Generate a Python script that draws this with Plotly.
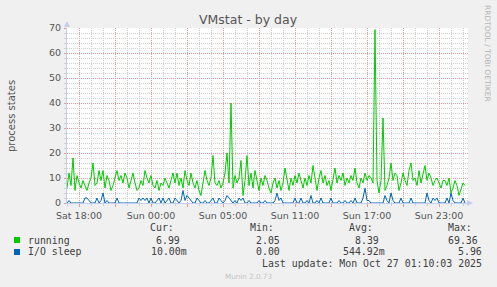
import plotly.graph_objects as go

# ---------------- data ----------------
START_H = -1.0          # first sample: Sat 17:00 (hours relative to Sat 18:00)
STEP_H = 1.0 / 6.0      # 10-minute samples

running = [
    6, 12, 7, 18, 5, 11, 8, 6, 9, 7,
    5, 8, 10, 16, 7, 8, 13, 9, 13, 6,
    11, 9, 5, 7, 10, 13, 9, 11, 8, 12,
    10, 6, 9, 12, 8, 5, 6, 9, 7, 13,
    10, 8, 11, 7, 6, 9, 5, 8, 7, 10,
    8, 6, 9, 12, 8, 12, 7, 10, 6, 13,
    9, 7, 12, 8, 6, 9, 5, 3, 8, 13,
    9, 7, 10, 19, 8, 7, 9, 6, 8, 12,
    20, 8, 40, 6, 11, 8, 10, 17, 3, 9,
    19, 7, 12, 6, 13, 9, 5, 10, 7, 11,
    9, 6, 4, 8, 10, 6, 9, 5, 8, 14,
    9, 5, 10, 7, 11, 8, 12, 9, 6, 10,
    7, 11, 8, 15, 9, 5, 10, 13, 8, 11,
    7, 9, 5, 10, 14, 8, 11, 9, 12, 7,
    10, 8, 11, 9, 14, 8, 6, 10, 8, 12,
    9, 11, 10, 8, 69.36, 9, 4, 9, 34, 5,
    7, 10, 16, 9, 12, 11, 5, 8, 12, 9,
    7, 13, 16, 9, 10, 7, 13, 8, 11, 15,
    9, 12, 10, 7, 9, 10, 8, 6, 9, 9,
    7, 10, 4, 6, 9, 7, 3, 6, 8, 6.99,
]

io_sleep = [
    0, 1, 0, 0, 0, 0, 0, 0, 0, 2,
    2, 1, 0, 0, 0, 2, 0, 1, 4, 0,
    1, 0, 0, 0, 0, 2, 0, 0, 0, 0,
    0, 0, 0, 0, 0, 0, 2, 1, 2, 1,
    2, 0, 2, 0, 0, 1, 2, 0, 2, 0,
    1, 2, 0, 0, 2, 1, 0, 1, 5, 1,
    3, 2, 1, 0, 0, 2, 1, 0, 0, 1,
    0, 0, 1, 2, 0, 0, 2, 1, 0, 1,
    3, 2, 1, 0, 1, 0, 2, 1, 2, 0,
    0, 1, 0, 0, 0, 0, 1, 0, 0, 1,
    0, 0, 0, 0, 1, 4, 1, 2, 0, 0,
    0, 0, 0, 0, 2, 0, 0, 2, 0, 0,
    1, 0, 3, 0, 0, 1, 0, 2, 0, 0,
    0, 0, 2, 0, 0, 0, 1, 0, 0, 1,
    0, 0, 1, 0, 2, 0, 0, 0, 2, 5.96,
    1, 1, 0, 0, 0, 0, 0, 0, 0, 3,
    1, 0, 4, 1, 0, 0, 0, 2, 0, 0,
    0, 0, 2, 0, 0, 0, 0, 0, 0, 0,
    4, 1, 0, 2, 1, 2, 0, 0, 0, 0,
    2, 0, 4, 1, 0, 0, 0, 0, 2, 0.01,
]

hours = [START_H + i * STEP_H for i in range(len(running))]

major_tick_hours = [0, 3, 6, 9, 12, 15, 18, 21, 24, 27, 30]
major_tick_text = ["Sat 18:00", "", "Sun 00:00", "", "Sun 05:00", "", "Sun 11:00", "",
                   "Sun 17:00", "", "Sun 23:00"]

series_names = ["running", "I/O sleep"]
series_colors = ["#00cc00", "#0066b3"]
cur_vals = ["6.99", "10.00m"]
min_vals = ["2.05", "0.00"]
avg_vals = ["8.39", "544.92m"]
max_vals = ["69.36", "5.96"]

# ---------------- geometry helpers ----------------
W, H = 497, 287
L, R, T, B = 67, 468, 28, 203


def px(x):
    return (x - L) / (R - L)


def py(y):
    return (B - y) / (B - T)


fig = go.Figure()
fig.add_trace(go.Scatter(x=hours, y=running, mode="lines",
                         line=dict(color=series_colors[0], width=1), name=series_names[0]))
fig.add_trace(go.Scatter(x=hours, y=io_sleep, mode="lines",
                         line=dict(color=series_colors[1], width=1), name=series_names[1]))

GRID_MAJOR = "#e29a9a"
GRID_MINOR = "#cfcfcf"
AXIS_COL = "#c4cdf2"
TXT = "#555555"
MONO = "DejaVu Sans Mono"

fig.update_layout(
    width=W, height=H, autosize=False,
    margin=dict(l=L, r=W - R, t=T, b=H - B, pad=0),
    paper_bgcolor="#f0f0f0", plot_bgcolor="#ffffff",
    showlegend=False,
    font=dict(family="DejaVu Sans", size=9.5, color=TXT),
    xaxis=dict(
        range=[START_H, (R - 79) / 12.0],
        tickmode="array", tickvals=major_tick_hours, ticktext=major_tick_text,
        ticks="outside", ticklen=3, tickcolor=GRID_MAJOR, tickwidth=1,
        showgrid=True, gridcolor=GRID_MAJOR, griddash="1px,1px", gridwidth=1,
        minor=dict(tickmode="linear", tick0=0, dtick=1, showgrid=True,
                   gridcolor=GRID_MINOR, griddash="1px,1px", gridwidth=1,
                   ticks="outside", ticklen=2, tickcolor=GRID_MINOR),
        showline=True, linecolor=AXIS_COL, linewidth=1,
        zeroline=False, tickfont=dict(size=9.5, color=TXT), ticklabelstandoff=1,
    ),
    yaxis=dict(
        range=[0, 70], tickmode="linear", tick0=0, dtick=10,
        ticks="outside", ticklen=2, tickcolor=GRID_MAJOR, tickwidth=1,
        showgrid=True, gridcolor=GRID_MAJOR, griddash="1px,1px", gridwidth=1,
        minor=dict(tickmode="linear", tick0=0, dtick=2, showgrid=True,
                   gridcolor=GRID_MINOR, griddash="1px,1px", gridwidth=1,
                   ticks="outside", ticklen=2, tickcolor=GRID_MINOR),
        showline=True, linecolor=AXIS_COL, linewidth=1,
        zeroline=False, tickfont=dict(size=9.5, color=TXT), ticklabelstandoff=1,
    ),
)

shapes = []
# axis arrows
shapes.append(dict(type="path", xref="paper", yref="paper",
                   path=f"M {px(467)} {py(200)} L {px(473)} {py(203)} L {px(467)} {py(206)} Z",
                   fillcolor=AXIS_COL, line=dict(width=0)))
shapes.append(dict(type="path", xref="paper", yref="paper",
                   path=f"M {px(64)} {py(27)} L {px(67)} {py(21)} L {px(70)} {py(27)} Z",
                   fillcolor=AXIS_COL, line=dict(width=0)))
# legend squares
for i, c in enumerate(series_colors):
    y0 = 237 + i * 12
    shapes.append(dict(type="rect", xref="paper", yref="paper",
                       x0=px(14), x1=px(20), y0=py(y0), y1=py(y0 + 6),
                       fillcolor=c, line=dict(width=0)))
fig.update_layout(shapes=shapes)

ann = []


def text(s, x, y, size=9.9, family=MONO, color="#404040", xanchor="left", angle=0):
    ann.append(dict(text=s, x=px(x), y=py(y), xref="paper", yref="paper",
                    xanchor=xanchor, yanchor="middle", showarrow=False, borderpad=0,
                    textangle=angle, font=dict(family=family, size=size, color=color)))


# title and side texts
text("VMstat - by day", 248.3, 19.5, size=12.5, family="DejaVu Sans", color="#555555", xanchor="center")
text("process states", 11.5, 115.5, size=10, family="DejaVu Sans", color="#555555",
     xanchor="center", angle=-90)
text("RRDTOOL / TOBI OETIKER", 488, 53, size=7.5, family="DejaVu Sans", color="#b4b4b4",
     xanchor="center", angle=90)

# legend table
text("Cur:", 149.3, 227.7)
text("Min:", 248.7, 227.7)
text("Avg:", 348.3, 227.7)
text("Max:", 446.7, 227.7)
rows_y = [240, 251.7]
cur_x = [155, 149.5]
min_x = [255, 255]
avg_x = [354.3, 342.3]
max_x = [446.7, 456.7]
for i in range(2):
    text(series_names[i], 26.7, rows_y[i])
    text(cur_vals[i], cur_x[i], rows_y[i])
    text(min_vals[i], min_x[i], rows_y[i])
    text(avg_vals[i], avg_x[i], rows_y[i])
    text(max_vals[i], max_x[i], rows_y[i])
text("Last update: Mon Oct 27 01:10:03 2025", 261, 263.3)
text("Munin 2.0.73", 248, 276, size=7.2, family="DejaVu Sans", color="#c4c4c4", xanchor="center")

fig.update_layout(annotations=ann)
fig.write_html("out.html")
